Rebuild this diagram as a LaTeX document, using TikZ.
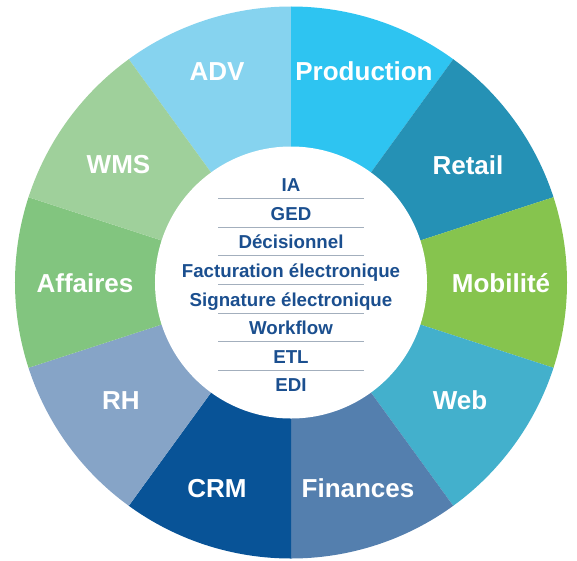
\documentclass[tikz,border=0pt]{standalone}
\usepackage{fontspec}
\setmainfont{Liberation Sans}
\definecolor{cADV}{HTML}{86D3EF}
\definecolor{cProd}{HTML}{2EC4F1}
\definecolor{cRetail}{HTML}{2591B5}
\definecolor{cMob}{HTML}{86C44E}
\definecolor{cWeb}{HTML}{43B0CC}
\definecolor{cFin}{HTML}{547FAE}
\definecolor{cCRM}{HTML}{085397}
\definecolor{cRH}{HTML}{86A4C7}
\definecolor{cAff}{HTML}{82C57F}
\definecolor{cWMS}{HTML}{9FD09B}
\definecolor{innertext}{HTML}{1B4F8F}
\definecolor{sepline}{HTML}{A3AFBD}
\tikzset{
  seglabel/.style={anchor=base, text=white, font=\fontsize{26}{30}\selectfont\bfseries, inner sep=0pt},
  itemlabel/.style={anchor=base, text=innertext, font=\fontsize{18.7}{22}\selectfont\bfseries, inner sep=0pt},
  sepstyle/.style={draw=sepline, line width=0.9pt}
}
\begin{document}
\begin{tikzpicture}[x=1pt,y=1pt]
\useasboundingbox (-291,-277.5) rectangle (286,282.5);
% segments
\foreach \a/\b/\c in {90/126/cADV, 54/90/cProd, 18/54/cRetail, -18/18/cMob, -54/-18/cWeb, -90/-54/cFin, -126/-90/cCRM, -162/-126/cRH, 162/198/cAff, 126/162/cWMS}{
  \fill[\c] (0,0) -- (\a:276) arc[start angle=\a, end angle=\b, radius=276] -- cycle;
}
\fill[white] (0,0) circle[radius=136];
% segment labels
\node[seglabel] (adv) at (-74,202.5) {ADV};
\node[seglabel] (prod) at (73,202.5) {Production};
\node[seglabel] (retail) at (177,108.5) {Retail};
\node[seglabel] (mob) at (210,-9.5) {Mobilité};
\node[seglabel] (web) at (169,-126.5) {Web};
\node[seglabel] (fin) at (67,-214.5) {Finances};
\node[seglabel] (crm) at (-74,-214.5) {CRM};
\node[seglabel] (rh) at (-170,-126.5) {RH};
\node[seglabel] (aff) at (-206,-9.5) {Affaires};
\node[seglabel] (wms) at (-172.5,109.5) {WMS};
% inner list
\node[itemlabel] (ia) at (0,90.8) {IA};
\node[itemlabel] (ged) at (0,62.2) {GED};
\node[itemlabel] (dec) at (0,33.6) {Décisionnel};
\node[itemlabel] (fact) at (0,5.0) {Facturation électronique};
\node[itemlabel] (sig) at (0,-23.6) {Signature électronique};
\node[itemlabel] (wf) at (0,-52.2) {Workflow};
\node[itemlabel] (etl) at (0,-80.8) {ETL};
\node[itemlabel] (edi) at (0,-109.4) {EDI};
\foreach \y in {83.8,55.2,26.6,-2.0,-30.6,-59.2,-87.8}{
  \draw[sepstyle] (-73,\y) -- (73,\y);
}
\end{tikzpicture}
\end{document}
